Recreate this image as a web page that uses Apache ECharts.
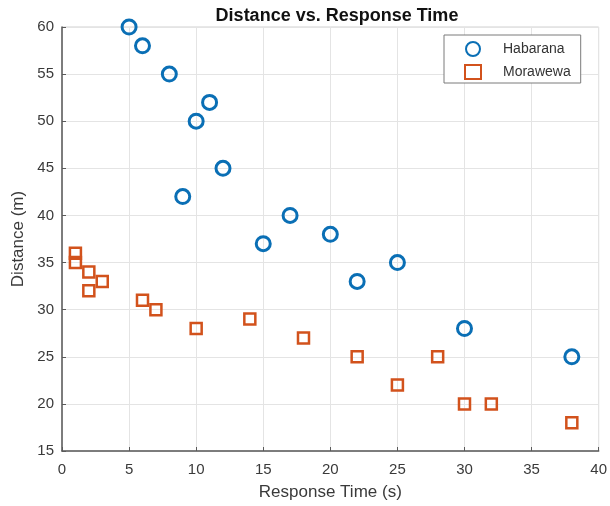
<!DOCTYPE html>
<html>
<head>
<meta charset="utf-8">
<script src="https://cdn.jsdelivr.net/npm/echarts@6/dist/echarts.min.js"></script>
<style>html,body{margin:0;padding:0;background:#fff;}#c{width:610px;height:506px;}</style>
</head>
<body>
<div id="c"></div>
<script>
const habaranaX = [5, 6, 8, 11, 10, 12, 9, 17, 15, 20, 22, 25, 30, 38];
const habaranaY = [60, 58, 55, 52, 50, 45, 42, 40, 37, 38, 33, 35, 28, 25];
const morawewaX = [1, 1, 2, 2, 3, 6, 7, 10, 14, 18, 22, 28, 25, 30, 32, 38];
const morawewaY = [36, 35, 34, 32, 33, 31, 30, 28, 29, 27, 25, 25, 22, 20, 20, 18];
const xTicks = [0, 5, 10, 15, 20, 25, 30, 35, 40];
const yTicks = [15, 20, 25, 30, 35, 40, 45, 50, 55, 60];

const pair = (xs, ys) => xs.map((x, i) => [x, ys[i]]);
const chart = echarts.init(document.getElementById('c'));
const FONT = 'Liberation Sans, Arial, sans-serif';
const axisCommon = {
  axisLine: { show: true, lineStyle: { color: '#5a5a5a', width: 1.5 } },
  axisTick: { show: true, inside: true, length: 4, lineStyle: { color: '#5a5a5a' } },
  axisLabel: { color: '#3a3a3a', fontSize: 15, fontFamily: FONT },
  splitLine: { show: true, lineStyle: { color: '#e4e4e4', width: 1 } },
  nameTextStyle: { color: '#3a3a3a', fontSize: 17, fontFamily: FONT }
};
chart.setOption({
  animation: false,
  backgroundColor: '#fff',
  title: {
    text: 'Distance vs. Response Time',
    left: 332, top: 2, textAlign: 'center',
    textStyle: { fontSize: 18, fontWeight: 'bold', color: '#111', fontFamily: FONT }
  },
  grid: { left: 62, right: 8, top: 27, bottom: 54, show: true, borderColor: '#d0d0d0', borderWidth: 1 },
  legend: {
    left: 444, top: 35, orient: 'vertical',
    padding: [6, 10, 3, 20], itemGap: 7, itemWidth: 16, itemHeight: 14,
    backgroundColor: '#fff', borderColor: '#7a7a7a', borderWidth: 1,
    textStyle: { fontSize: 14, lineHeight: 14, color: '#333', padding: [0, 0, 0, 17], fontFamily: FONT },
    data: ['Habarana', 'Morawewa']
  },
  xAxis: Object.assign({}, axisCommon, {
    type: 'value', min: 0, max: 40, interval: 5,
    name: 'Response Time (s)', nameLocation: 'middle', nameGap: 33,
    axisLabel: Object.assign({}, axisCommon.axisLabel, { margin: 11 })
  }),
  yAxis: Object.assign({}, axisCommon, {
    type: 'value', min: 15, max: 60, interval: 5,
    name: 'Distance (m)', nameLocation: 'middle', nameGap: 32,
    axisLabel: Object.assign({}, axisCommon.axisLabel, { margin: 8 })
  }),
  series: [
    {
      name: 'Habarana', type: 'scatter', data: pair(habaranaX, habaranaY),
      symbol: 'circle', symbolSize: 14,
      itemStyle: { color: 'rgba(255,255,255,0)', borderColor: '#0a6fb5', borderWidth: 3, opacity: 1 }
    },
    {
      name: 'Morawewa', type: 'scatter', data: pair(morawewaX, morawewaY),
      symbol: 'rect', symbolSize: 11,
      itemStyle: { color: 'rgba(255,255,255,0)', borderColor: '#d2521c', borderWidth: 2.5, opacity: 1 }
    }
  ]
});
</script>
</body>
</html>
